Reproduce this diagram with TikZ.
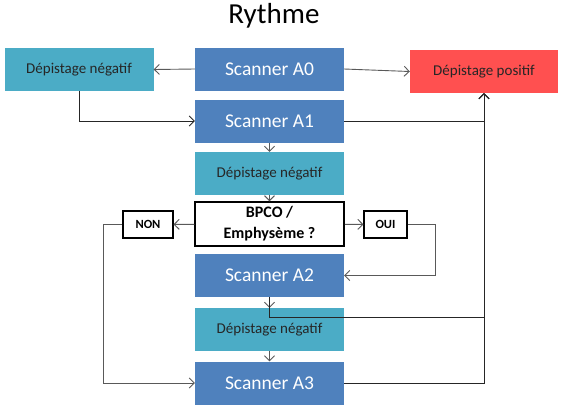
\documentclass[tikz,border=0pt]{standalone}
\usepackage{fontspec}
\setmainfont{Carlito}
\usepackage{xcolor}
\usepackage{tikz}
\usetikzlibrary{arrows.meta}
\definecolor{scanblue}{HTML}{4F81BD}
\definecolor{negteal}{HTML}{4BACC6}
\definecolor{posred}{HTML}{FF5050}
\definecolor{lineg}{HTML}{595959}

\begin{document}
\begin{tikzpicture}[x=1pt,y=-1pt,
            box/.style={minimum width=149pt,minimum height=43pt,inner sep=0pt},
            scan/.style={box,fill=scanblue,text=white,font=\fontsize{19.5}{22}\selectfont},
            neg/.style={box,fill=negteal,text=black!85,font=\fontsize{15}{18}\selectfont},
            posbox/.style={box,minimum width=148pt,fill=posred,text=black!85,font=\fontsize{15}{18}\selectfont},
            bpcobox/.style={box,minimum height=44pt,draw=black,line width=1.5pt,align=center,font=\bfseries\fontsize{16}{21}\selectfont},
            rep/.style={minimum height=27pt,inner sep=0pt,draw=black,line width=1.2pt,font=\bfseries\fontsize{12.5}{15}\selectfont},
            arr/.style={-{Straight Barb[length=5pt,width=10pt]},line width=0.9pt,draw=lineg}]
            \useasboundingbox (0,0) rectangle (565,413);

            \node at (274,16) (title) {\fontsize{29}{32}\selectfont Rythme};

            \node[neg] at (79,69.5) (negL) {Dépistage négatif};
            \node[scan] at (269.5,69) (A0) {Scanner A0};
            \node[posbox] at (484,71.5) (pos) {Dépistage positif};
            \node[scan] at (269.5,121) (A1) {Scanner A1};
            \node[neg] at (269.5,173.5) (neg1) {Dépistage négatif};
            \node[bpcobox] at (269.5,224) (bpco) {BPCO /\\Emphysème ?};
            \node[rep,minimum width=50pt] at (148,224.5) (non) {NON};
            \node[rep,minimum width=43pt] at (385.5,224.5) (oui) {OUI};
            \node[scan] at (269.5,275.5) (A2) {Scanner A2};
            \node[neg] at (269.5,329.5) (neg2) {Dépistage négatif};
            \node[scan] at (269.5,383) (A3) {Scanner A3};

            \draw[arr] (A0.west) -- (negL.east);
            \draw[arr] (A0.east) -- (pos.west);
            \draw[arr,draw=black!85] (negL.south) |- (A1.west);
            \draw[arr,draw=black!85] (A1.east) -| (pos.south);
            \draw[arr] (A1) -- (neg1);
            \draw[arr] (neg1) -- (bpco);
            \draw[arr] (bpco) -- (non);
            \draw[arr] (bpco) -- (oui);
            \draw[arr] (oui.east) -- ++(28,0) |- (A2.east);
            \draw[arr] (non.west) -- ++(-19,0) |- (A3.west);
            \draw[arr] (A2) -- (neg2);
            \draw[arr,draw=black!85] (A2.south) -- ++(0,20) -| (pos.south);
            \draw[arr] (neg2) -- (A3);
            \draw[arr,draw=black!85] (A3.east) -| (pos.south);
        \end{tikzpicture}
\end{document}
